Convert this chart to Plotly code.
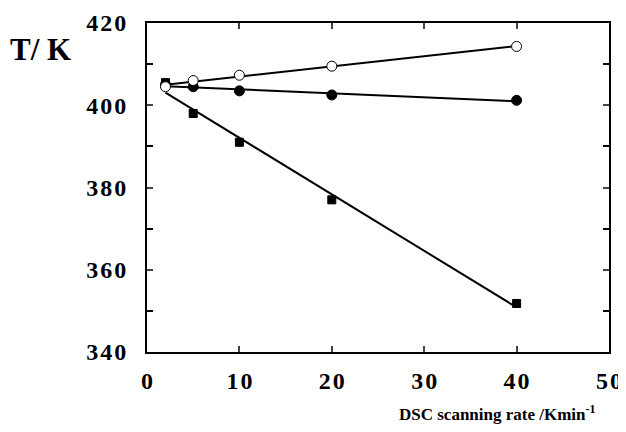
import numpy as np
import plotly.graph_objects as go

rate = [2, 5, 10, 20, 40]
t_square = [405.5, 398.0, 391.0, 377.0, 351.8]
t_filled = [405.0, 404.5, 403.5, 402.5, 401.2]
t_open = [404.5, 406.0, 407.3, 409.5, 414.3]

x_ticks = [0, 10, 20, 30, 40, 50]
y_ticks = [340, 360, 380, 400, 420]

def spaced(v):
    return "<b>" + "\u200a".join(str(v)) + "</b>"

fig = go.Figure()
xs = np.array(rate, dtype=float)
for ys in [t_square, t_filled, t_open]:
    k, b = np.polyfit(xs, np.array(ys), 1)
    fx = np.array([xs.min(), xs.max()])
    fig.add_trace(go.Scatter(x=fx, y=k * fx + b, mode="lines",
                             line=dict(color="black", width=2), showlegend=False))
for ys, sym, fill, sz in [(t_square, "square", "black", 8), (t_filled, "circle", "black", 10), (t_open, "circle", "white", 10)]:
    fig.add_trace(go.Scatter(x=rate, y=ys, mode="markers",
                             marker=dict(symbol=sym, color=fill, size=sz,
                                         line=dict(color="black", width=1)),
                             showlegend=False))

font_t = "Liberation Serif"
tickfont = dict(family=font_t, size=24, color="black")
fig.update_layout(
    width=618, height=424,
    margin=dict(l=139, r=17, t=15, b=80),
    paper_bgcolor="white", plot_bgcolor="white",
    font=dict(family=font_t, color="black"),
    xaxis=dict(range=[0, 50], tickvals=x_ticks, ticktext=[spaced(v) for v in x_ticks],
               ticks="inside", ticklen=6, tickwidth=1.5, automargin=False,
               showline=True, linecolor="black", linewidth=2, mirror="ticks",
               showgrid=False, zeroline=False, ticklabelstandoff=6,
               tickfont=tickfont),
    yaxis=dict(range=[340, 420], tickvals=y_ticks, ticktext=[spaced(v) for v in y_ticks],
               ticks="inside", ticklen=6, tickwidth=1.5, automargin=False,
               showline=True, linecolor="black", linewidth=2, mirror="ticks",
               showgrid=False, zeroline=False, ticklabelstandoff=14,
               tickfont=tickfont,
               minor=dict(dtick=10, ticks="inside", ticklen=6, tickwidth=1.5, tickcolor="black")),
    annotations=[
        dict(text="<b>T/ K</b>", xref="paper", yref="paper", x=-0.3, y=0.92, showarrow=False,
             xanchor="left", yanchor="middle", font=dict(family=font_t, size=31, color="black")),
        dict(text="<b>DSC scanning rate /Kmin<sup>-1</sup></b>", xref="paper", yref="paper",
             x=0.976, y=-0.185, xanchor="right", yanchor="middle", showarrow=False,
             font=dict(family=font_t, size=17, color="black")),
    ],
)
fig.write_html("out.html")
